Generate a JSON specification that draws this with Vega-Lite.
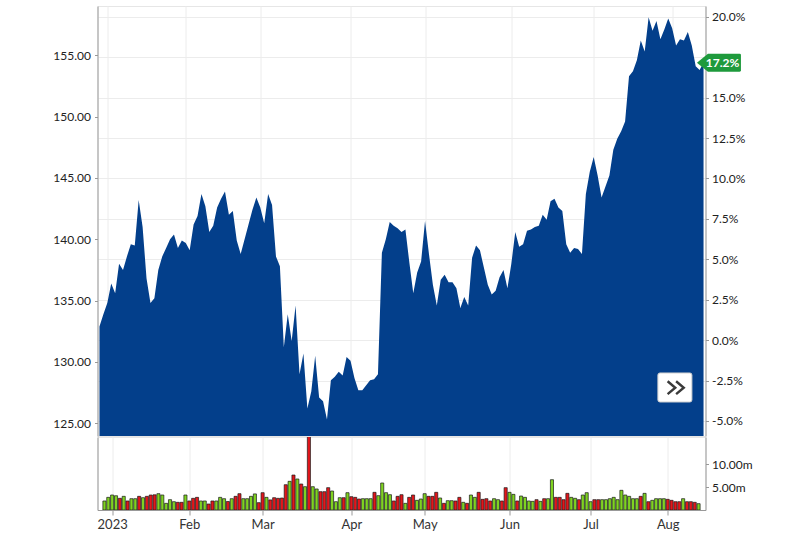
{
  "$schema": "https://vega.github.io/schema/vega-lite/v6.json",
  "background": "white",
  "padding": {"left": 51.5, "top": 5, "right": 5, "bottom": 0},
  "spacing": -3,
  "config": {
    "view": {"stroke": "#e6e6e6"},
    "axis": {"labelFont": "Lato", "labelColor": "#222", "labelFontSize": 12, "domainColor": "#999", "tickColor": "#999", "gridColor": "#ececec", "labelFlush": false, "title": null}
  },
  "data": {"values": [
    {"date":"2022-12-29","i":0,"close":132.9,"vol":1.96,"dir":"up"},
    {"date":"2022-12-30","i":1,"close":133.9,"vol":2.75,"dir":"up"},
    {"date":"2023-01-03","i":2,"close":134.8,"vol":3.26,"dir":"up"},
    {"date":"2023-01-04","i":3,"close":136.4,"vol":3.10,"dir":"up"},
    {"date":"2023-01-05","i":4,"close":135.6,"vol":2.54,"dir":"down"},
    {"date":"2023-01-06","i":5,"close":138.0,"vol":2.97,"dir":"up"},
    {"date":"2023-01-09","i":6,"close":137.5,"vol":1.96,"dir":"down"},
    {"date":"2023-01-10","i":7,"close":138.6,"vol":2.46,"dir":"up"},
    {"date":"2023-01-11","i":8,"close":139.6,"vol":2.46,"dir":"up"},
    {"date":"2023-01-12","i":9,"close":139.5,"vol":2.97,"dir":"down"},
    {"date":"2023-01-13","i":10,"close":143.2,"vol":2.68,"dir":"up"},
    {"date":"2023-01-17","i":11,"close":141.0,"vol":2.97,"dir":"down"},
    {"date":"2023-01-18","i":12,"close":136.8,"vol":3.26,"dir":"down"},
    {"date":"2023-01-19","i":13,"close":134.8,"vol":3.30,"dir":"down"},
    {"date":"2023-01-20","i":14,"close":135.2,"vol":3.55,"dir":"up"},
    {"date":"2023-01-23","i":15,"close":137.5,"vol":3.26,"dir":"up"},
    {"date":"2023-01-24","i":16,"close":138.6,"vol":1.45,"dir":"up"},
    {"date":"2023-01-25","i":17,"close":139.3,"vol":2.25,"dir":"up"},
    {"date":"2023-01-26","i":18,"close":140.0,"vol":1.81,"dir":"up"},
    {"date":"2023-01-27","i":19,"close":140.4,"vol":1.67,"dir":"down"},
    {"date":"2023-01-30","i":20,"close":139.3,"vol":1.67,"dir":"down"},
    {"date":"2023-01-31","i":21,"close":139.9,"vol":3.26,"dir":"up"},
    {"date":"2023-02-01","i":22,"close":139.7,"vol":1.96,"dir":"down"},
    {"date":"2023-02-02","i":23,"close":139.1,"vol":2.54,"dir":"down"},
    {"date":"2023-02-03","i":24,"close":141.2,"vol":2.75,"dir":"down"},
    {"date":"2023-02-06","i":25,"close":141.9,"vol":1.96,"dir":"up"},
    {"date":"2023-02-07","i":26,"close":143.7,"vol":1.96,"dir":"up"},
    {"date":"2023-02-08","i":27,"close":142.7,"vol":1.30,"dir":"down"},
    {"date":"2023-02-09","i":28,"close":140.6,"vol":1.96,"dir":"down"},
    {"date":"2023-02-10","i":29,"close":141.1,"vol":1.96,"dir":"up"},
    {"date":"2023-02-13","i":30,"close":142.6,"vol":2.75,"dir":"up"},
    {"date":"2023-02-14","i":31,"close":143.3,"vol":2.46,"dir":"up"},
    {"date":"2023-02-15","i":32,"close":143.9,"vol":1.85,"dir":"down"},
    {"date":"2023-02-16","i":33,"close":142.0,"vol":2.46,"dir":"up"},
    {"date":"2023-02-17","i":34,"close":142.3,"vol":2.97,"dir":"down"},
    {"date":"2023-02-21","i":35,"close":139.9,"vol":3.55,"dir":"down"},
    {"date":"2023-02-22","i":36,"close":138.8,"vol":2.46,"dir":"up"},
    {"date":"2023-02-23","i":37,"close":140.0,"vol":2.46,"dir":"up"},
    {"date":"2023-02-24","i":38,"close":141.2,"vol":2.97,"dir":"up"},
    {"date":"2023-02-27","i":39,"close":142.4,"vol":3.50,"dir":"up"},
    {"date":"2023-02-28","i":40,"close":143.4,"vol":1.60,"dir":"down"},
    {"date":"2023-03-01","i":41,"close":142.6,"vol":3.77,"dir":"down"},
    {"date":"2023-03-02","i":42,"close":141.3,"vol":2.75,"dir":"up"},
    {"date":"2023-03-03","i":43,"close":143.7,"vol":2.20,"dir":"down"},
    {"date":"2023-03-06","i":44,"close":142.8,"vol":2.68,"dir":"down"},
    {"date":"2023-03-07","i":45,"close":138.6,"vol":2.54,"dir":"down"},
    {"date":"2023-03-08","i":46,"close":137.8,"vol":2.60,"dir":"down"},
    {"date":"2023-03-09","i":47,"close":131.2,"vol":5.50,"dir":"down"},
    {"date":"2023-03-10","i":48,"close":133.9,"vol":6.23,"dir":"up"},
    {"date":"2023-03-13","i":49,"close":131.7,"vol":7.60,"dir":"down"},
    {"date":"2023-03-14","i":50,"close":134.6,"vol":6.74,"dir":"up"},
    {"date":"2023-03-15","i":51,"close":129.0,"vol":5.65,"dir":"down"},
    {"date":"2023-03-16","i":52,"close":130.7,"vol":5.07,"dir":"up"},
    {"date":"2023-03-17","i":53,"close":126.2,"vol":16.5,"dir":"down"},
    {"date":"2023-03-20","i":54,"close":127.6,"vol":5.07,"dir":"up"},
    {"date":"2023-03-21","i":55,"close":130.5,"vol":4.57,"dir":"up"},
    {"date":"2023-03-22","i":56,"close":127.1,"vol":3.99,"dir":"down"},
    {"date":"2023-03-23","i":57,"close":126.8,"vol":3.99,"dir":"down"},
    {"date":"2023-03-24","i":58,"close":125.3,"vol":4.86,"dir":"down"},
    {"date":"2023-03-27","i":59,"close":128.5,"vol":4.13,"dir":"up"},
    {"date":"2023-03-28","i":60,"close":128.8,"vol":1.81,"dir":"up"},
    {"date":"2023-03-29","i":61,"close":129.2,"vol":2.68,"dir":"up"},
    {"date":"2023-03-30","i":62,"close":128.9,"vol":2.68,"dir":"down"},
    {"date":"2023-03-31","i":63,"close":130.4,"vol":3.77,"dir":"up"},
    {"date":"2023-04-03","i":64,"close":130.1,"vol":2.90,"dir":"down"},
    {"date":"2023-04-04","i":65,"close":128.7,"vol":2.75,"dir":"down"},
    {"date":"2023-04-05","i":66,"close":127.7,"vol":2.39,"dir":"down"},
    {"date":"2023-04-06","i":67,"close":127.7,"vol":2.46,"dir":"up"},
    {"date":"2023-04-10","i":68,"close":128.1,"vol":2.46,"dir":"up"},
    {"date":"2023-04-11","i":69,"close":128.5,"vol":2.46,"dir":"up"},
    {"date":"2023-04-12","i":70,"close":128.6,"vol":3.84,"dir":"down"},
    {"date":"2023-04-13","i":71,"close":129.0,"vol":3.12,"dir":"up"},
    {"date":"2023-04-14","i":72,"close":138.9,"vol":5.87,"dir":"up"},
    {"date":"2023-04-17","i":73,"close":140.0,"vol":3.77,"dir":"up"},
    {"date":"2023-04-18","i":74,"close":141.4,"vol":3.33,"dir":"up"},
    {"date":"2023-04-19","i":75,"close":141.1,"vol":1.96,"dir":"down"},
    {"date":"2023-04-20","i":76,"close":140.9,"vol":2.97,"dir":"down"},
    {"date":"2023-04-21","i":77,"close":140.6,"vol":3.33,"dir":"down"},
    {"date":"2023-04-24","i":78,"close":140.8,"vol":1.45,"dir":"up"},
    {"date":"2023-04-25","i":79,"close":138.1,"vol":2.75,"dir":"down"},
    {"date":"2023-04-26","i":80,"close":135.6,"vol":3.26,"dir":"down"},
    {"date":"2023-04-27","i":81,"close":137.3,"vol":2.10,"dir":"up"},
    {"date":"2023-04-28","i":82,"close":138.2,"vol":2.39,"dir":"up"},
    {"date":"2023-05-01","i":83,"close":141.5,"vol":3.55,"dir":"up"},
    {"date":"2023-05-02","i":84,"close":138.8,"vol":2.97,"dir":"down"},
    {"date":"2023-05-03","i":85,"close":136.3,"vol":2.97,"dir":"down"},
    {"date":"2023-05-04","i":86,"close":134.6,"vol":3.84,"dir":"down"},
    {"date":"2023-05-05","i":87,"close":136.7,"vol":2.61,"dir":"up"},
    {"date":"2023-05-08","i":88,"close":137.1,"vol":1.45,"dir":"down"},
    {"date":"2023-05-09","i":89,"close":136.5,"vol":2.03,"dir":"up"},
    {"date":"2023-05-10","i":90,"close":136.5,"vol":2.03,"dir":"up"},
    {"date":"2023-05-11","i":91,"close":136.0,"vol":1.96,"dir":"down"},
    {"date":"2023-05-12","i":92,"close":134.4,"vol":2.75,"dir":"down"},
    {"date":"2023-05-15","i":93,"close":135.3,"vol":1.67,"dir":"up"},
    {"date":"2023-05-16","i":94,"close":134.6,"vol":1.45,"dir":"down"},
    {"date":"2023-05-17","i":95,"close":138.5,"vol":3.26,"dir":"up"},
    {"date":"2023-05-18","i":96,"close":139.5,"vol":2.75,"dir":"up"},
    {"date":"2023-05-19","i":97,"close":139.1,"vol":3.84,"dir":"down"},
    {"date":"2023-05-22","i":98,"close":137.7,"vol":2.32,"dir":"down"},
    {"date":"2023-05-23","i":99,"close":136.3,"vol":2.46,"dir":"down"},
    {"date":"2023-05-24","i":100,"close":135.5,"vol":1.96,"dir":"down"},
    {"date":"2023-05-25","i":101,"close":135.8,"vol":2.46,"dir":"up"},
    {"date":"2023-05-26","i":102,"close":136.9,"vol":2.25,"dir":"up"},
    {"date":"2023-05-30","i":103,"close":137.5,"vol":1.96,"dir":"down"},
    {"date":"2023-05-31","i":104,"close":136.0,"vol":4.86,"dir":"down"},
    {"date":"2023-06-01","i":105,"close":138.0,"vol":3.84,"dir":"up"},
    {"date":"2023-06-02","i":106,"close":140.6,"vol":3.40,"dir":"up"},
    {"date":"2023-06-05","i":107,"close":139.4,"vol":1.96,"dir":"down"},
    {"date":"2023-06-06","i":108,"close":139.6,"vol":3.04,"dir":"up"},
    {"date":"2023-06-07","i":109,"close":140.7,"vol":2.75,"dir":"up"},
    {"date":"2023-06-08","i":110,"close":140.8,"vol":1.96,"dir":"up"},
    {"date":"2023-06-09","i":111,"close":141.0,"vol":1.88,"dir":"up"},
    {"date":"2023-06-12","i":112,"close":141.1,"vol":2.25,"dir":"down"},
    {"date":"2023-06-13","i":113,"close":142.0,"vol":1.88,"dir":"up"},
    {"date":"2023-06-14","i":114,"close":141.6,"vol":2.46,"dir":"down"},
    {"date":"2023-06-15","i":115,"close":143.1,"vol":2.46,"dir":"up"},
    {"date":"2023-06-16","i":116,"close":143.3,"vol":6.59,"dir":"up"},
    {"date":"2023-06-20","i":117,"close":142.6,"vol":2.75,"dir":"down"},
    {"date":"2023-06-21","i":118,"close":142.3,"vol":2.75,"dir":"down"},
    {"date":"2023-06-22","i":119,"close":139.6,"vol":2.25,"dir":"down"},
    {"date":"2023-06-23","i":120,"close":138.9,"vol":3.62,"dir":"down"},
    {"date":"2023-06-26","i":121,"close":139.3,"vol":2.75,"dir":"up"},
    {"date":"2023-06-27","i":122,"close":139.2,"vol":2.54,"dir":"up"},
    {"date":"2023-06-28","i":123,"close":138.8,"vol":2.25,"dir":"down"},
    {"date":"2023-06-29","i":124,"close":143.7,"vol":3.26,"dir":"up"},
    {"date":"2023-06-30","i":125,"close":145.5,"vol":3.77,"dir":"up"},
    {"date":"2023-07-03","i":126,"close":146.7,"vol":1.81,"dir":"up"},
    {"date":"2023-07-05","i":127,"close":145.2,"vol":2.25,"dir":"down"},
    {"date":"2023-07-06","i":128,"close":143.4,"vol":2.25,"dir":"down"},
    {"date":"2023-07-07","i":129,"close":144.3,"vol":2.25,"dir":"up"},
    {"date":"2023-07-10","i":130,"close":145.2,"vol":2.25,"dir":"up"},
    {"date":"2023-07-11","i":131,"close":147.3,"vol":2.46,"dir":"up"},
    {"date":"2023-07-12","i":132,"close":148.2,"vol":2.75,"dir":"up"},
    {"date":"2023-07-13","i":133,"close":148.8,"vol":2.25,"dir":"up"},
    {"date":"2023-07-14","i":134,"close":149.6,"vol":4.28,"dir":"up"},
    {"date":"2023-07-17","i":135,"close":153.3,"vol":3.26,"dir":"up"},
    {"date":"2023-07-18","i":136,"close":153.7,"vol":2.97,"dir":"up"},
    {"date":"2023-07-19","i":137,"close":154.6,"vol":2.46,"dir":"up"},
    {"date":"2023-07-20","i":138,"close":156.2,"vol":2.46,"dir":"up"},
    {"date":"2023-07-21","i":139,"close":155.3,"vol":2.97,"dir":"down"},
    {"date":"2023-07-24","i":140,"close":158.1,"vol":3.62,"dir":"up"},
    {"date":"2023-07-25","i":141,"close":157.0,"vol":1.81,"dir":"down"},
    {"date":"2023-07-26","i":142,"close":157.8,"vol":2.10,"dir":"up"},
    {"date":"2023-07-27","i":143,"close":156.3,"vol":2.46,"dir":"up"},
    {"date":"2023-07-28","i":144,"close":157.1,"vol":2.46,"dir":"up"},
    {"date":"2023-07-31","i":145,"close":158.0,"vol":2.46,"dir":"up"},
    {"date":"2023-08-01","i":146,"close":157.2,"vol":2.32,"dir":"down"},
    {"date":"2023-08-02","i":147,"close":155.8,"vol":2.10,"dir":"down"},
    {"date":"2023-08-03","i":148,"close":156.3,"vol":1.81,"dir":"down"},
    {"date":"2023-08-04","i":149,"close":156.2,"vol":1.81,"dir":"down"},
    {"date":"2023-08-07","i":150,"close":156.9,"vol":2.46,"dir":"up"},
    {"date":"2023-08-08","i":151,"close":155.8,"vol":1.81,"dir":"down"},
    {"date":"2023-08-09","i":152,"close":154.1,"vol":1.81,"dir":"down"},
    {"date":"2023-08-10","i":153,"close":153.8,"vol":1.67,"dir":"down"},
    {"date":"2023-08-11","i":154,"close":154.4,"vol":1.38,"dir":"up"}
  ]},
  "vconcat": [
    {
      "width": 608,
      "height": 430,
      "layer": [
        {
          "mark": {"type": "area", "color": "#033f8b", "opacity": 1, "clip": true},
          "encoding": {
            "x": {"field": "i", "type": "quantitative", "scale": {"domain": [-0.5, 154.5], "nice": false, "zero": false},
                  "axis": {"values": [2, 22, 41, 64, 83, 105, 126, 146], "labels": false, "ticks": false, "domain": false, "grid": true, "minExtent": 0, "maxExtent": 0, "labelPadding": 0}},
            "y": {"field": "close", "type": "quantitative", "stack": null, "scale": {"domain": [123.965, 159.018], "nice": false, "zero": false},
                  "axis": {"orient": "left", "values": [125, 130, 135, 140, 145, 150, 155], "format": ".2f", "grid": false, "tickSize": 3, "labelPadding": 4}}
          }
        },
        {
          "mark": {"type": "line", "opacity": 0, "clip": true},
          "encoding": {
            "x": {"field": "i", "type": "quantitative"},
            "y": {"field": "close", "type": "quantitative",
                  "axis": {"orient": "right", "values": [125.191, 128.486, 131.78, 135.075, 138.369, 141.664, 144.958, 148.253, 151.547, 154.842, 158.136],
                           "labelExpr": "abs(datum.value - 154.842) < 0.01 ? '' : replace(format(datum.value/131.78-1, '.1%'), '\u2212', '-')", "grid": true, "tickSize": 3, "labelPadding": 3}}
          }
        },
        {
          "transform": [{"filter": "datum.i == 154"}],
          "mark": {"type": "point", "shape": "M-0.3,0 L0.2,-0.41 L1.64,-0.41 Q1.7,-0.41 1.7,-0.35 L1.7,0.35 Q1.7,0.41 1.64,0.41 L0.2,0.41 Z", "size": 1936, "filled": true, "fill": "#1e9a3c", "opacity": 1, "strokeWidth": 0},
          "encoding": {
            "x": {"field": "i", "type": "quantitative"},
            "y": {"field": "close", "type": "quantitative", "axis": null}
          }
        },
        {
          "transform": [{"filter": "datum.i == 154"}],
          "mark": {"type": "text", "dx": 19, "align": "center", "baseline": "middle", "color": "white", "font": "Lato", "fontSize": 12, "fontWeight": "bold"},
          "encoding": {
            "x": {"field": "i", "type": "quantitative"},
            "y": {"field": "close", "type": "quantitative", "axis": null},
            "text": {"value": "17.2%"}
          }
        },
        {
          "data": {"values": [{"button": "more"}]},
          "mark": {"type": "point", "shape": "M-0.88,-0.853 L0.88,-0.853 Q1,-0.853 1,-0.733 L1,0.733 Q1,0.853 0.88,0.853 L-0.88,0.853 Q-1,0.853 -1,0.733 L-1,-0.733 Q-1,-0.853 -0.88,-0.853 Z", "size": 1156, "filled": true, "fill": "white", "stroke": "#cfcfcf", "strokeWidth": 1, "opacity": 1},
          "encoding": {
            "x": {"datum": 146.7, "type": "quantitative"},
            "y": {"datum": 127.92, "type": "quantitative", "axis": null}
          }
        },
        {
          "data": {"values": [{"button": "more"}]},
          "mark": {"type": "point", "shape": "M-0.95,-0.76 L-0.05,0 L-0.95,0.76 M0.05,-0.76 L0.95,0 L0.05,0.76", "size": 289, "filled": false, "stroke": "#3a3a3a", "strokeWidth": 2.4, "opacity": 1},
          "encoding": {
            "x": {"datum": 146.9, "type": "quantitative"},
            "y": {"datum": 127.9, "type": "quantitative", "axis": null}
          }
        }
      ],
      "resolve": {"axis": {"y": "independent"}}
    },
    {
      "width": 608,
      "height": 73,
      "layer": [
        {
          "mark": {"type": "bar", "size": 3.1, "stroke": "#1a1a1a", "strokeWidth": 0.7, "clip": true},
          "encoding": {
            "x": {"field": "i", "type": "quantitative", "scale": {"domain": [-0.5, 154.5], "nice": false, "zero": false},
                  "axis": {"values": [2, 22, 41, 64, 83, 105, 126, 146], "labelExpr": "datum.value == 2 ? '2023' : datum.value == 22 ? 'Feb' : datum.value == 41 ? 'Mar' : datum.value == 64 ? 'Apr' : datum.value == 83 ? 'May' : datum.value == 105 ? 'Jun' : datum.value == 126 ? 'Jul' : 'Aug'", "grid": true, "tickSize": 5, "labelFontSize": 13, "labelPadding": 3, "labelColor": "#333"}},
            "y": {"field": "vol", "type": "quantitative", "stack": null, "scale": {"domain": [0, 15.87], "nice": false, "zero": true},
                  "axis": {"orient": "right", "values": [5, 10], "labelExpr": "format(datum.value, '.2f') + 'm'", "grid": false, "tickSize": 3, "labelPadding": 3}},
            "color": {"field": "dir", "type": "nominal", "scale": {"domain": ["down", "up"], "range": ["#e3161b", "#7fd321"]}, "legend": null}
          }
        },
        {
          "mark": {"type": "rule", "opacity": 0, "clip": true},
          "encoding": {
            "x": {"field": "i", "type": "quantitative"},
            "y": {"field": "vol", "type": "quantitative", "axis": {"orient": "left", "labels": false, "ticks": false, "grid": false, "domain": true}}
          }
        }
      ],
      "resolve": {"axis": {"y": "independent"}}
    }
  ]
}
